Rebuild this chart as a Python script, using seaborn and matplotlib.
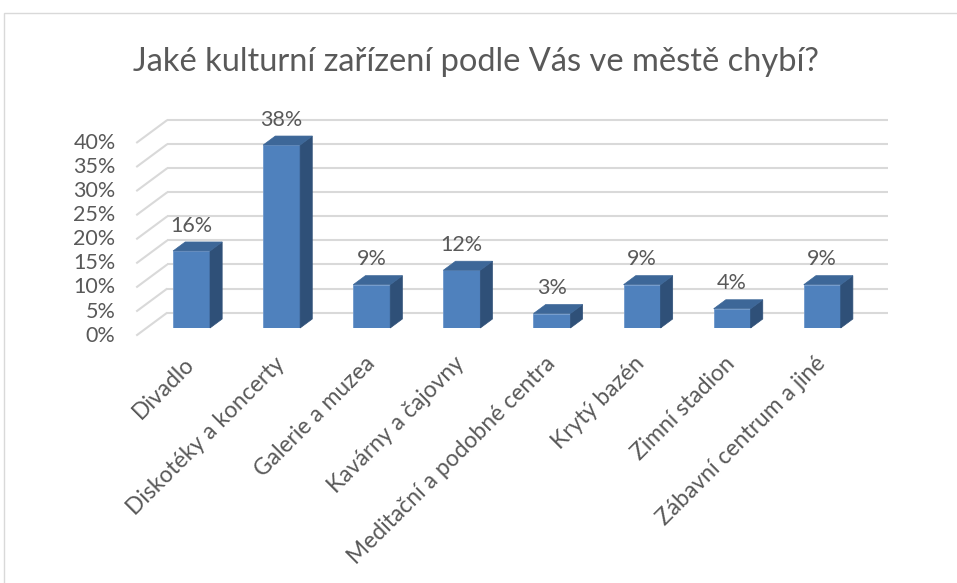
import matplotlib
matplotlib.use('Agg')
import matplotlib.pyplot as plt
import matplotlib.transforms as mtransforms
from matplotlib.patches import Polygon, Rectangle
import seaborn as sns

# Data
categories = ['Divadlo', 'Diskotéky a koncerty', 'Galerie a muzea', 'Kavárny a čajovny',
              'Meditační a podobné centra', 'Krytý bazén', 'Zimní stadion',
              'Zábavní centrum a jiné']
shares = [16, 38, 9, 12, 3, 9, 4, 9]
y_ticks = [0, 5, 10, 15, 20, 25, 30, 35, 40]
title = 'Jaké kulturní zařízení podle Vás ve městě chybí?'

front_col = '#4f81bd'
top_col = '#3d6798'
side_col = '#2f5078'
grid_col = '#d9d9d9'
text_col = '#595959'

sns.set_style('white')
plt.rcParams['font.family'] = ['Lato', 'DejaVu Sans']

W, H = 957, 583
fig = plt.figure(figsize=(W / 100, H / 100), dpi=100)
ax = fig.add_axes([146.5 / W, 255 / H, 720.8 / W, 192.6 / H])

sns.barplot(x=categories, y=shares, width=0.41, color=front_col, saturation=1,
            errorbar=None, ax=ax, zorder=3, edgecolor='#6f98cc', linewidth=0.6)
ax.set_xlim(-0.5, 7.5)
ax.set_ylim(0, 40)
sns.despine(ax=ax, left=True, bottom=True)
ax.set_xlabel('')
ax.set_ylabel('')

# pixel -> data conversion for the fake 3D depth
sx = ax.bbox.width / 8
sy = ax.bbox.height / 40


def depth(d):
    # d pixels into the picture: goes right and up
    return 1.35 * d / sx, d / sy


fx, fy = depth(-7.6)   # front edge of the side wall
bx, by = depth(15.4)   # back wall
dx, dy = depth(9)      # bar depth

# gridlines on the back wall and left wall, tick labels at the front edge
off = mtransforms.ScaledTranslation(-31 / 100, -7.6 / 100, fig.dpi_scale_trans)
for t in y_ticks:
    ax.plot([-0.5 + bx, 7.5 + bx], [t + by, t + by], color=grid_col, lw=1.5,
            clip_on=False, zorder=1, solid_capstyle='butt')
    ax.plot([-0.5 + fx, -0.5 + bx], [t + fy, t + by], color=grid_col, lw=1.5,
            clip_on=False, zorder=1, solid_capstyle='butt')
    ax.text(-0.5, t, f'{t}%', transform=ax.transData + off,
            ha='right', va='center', fontsize=15.5, color=text_col)

# side and top faces of the bars
for p in ax.patches:
    x0, w, h = p.get_x(), p.get_width(), p.get_height()
    side = [(x0 + w, 0), (x0 + w + dx, dy), (x0 + w + dx, h + dy), (x0 + w, h)]
    top = [(x0, h), (x0 + dx, h + dy), (x0 + w + dx, h + dy), (x0 + w, h)]
    ax.add_patch(Polygon(side, closed=True, facecolor=side_col, edgecolor=side_col,
                         lw=0.5, clip_on=False, zorder=3))
    ax.add_patch(Polygon(top, closed=True, facecolor=top_col, edgecolor=top_col,
                         lw=0.5, clip_on=False, zorder=3))

# value labels
for i, v in enumerate(shares):
    ax.annotate(f'{v}%', (i, v), xytext=(0, 11), textcoords='offset points',
                ha='center', va='bottom', fontsize=15.5, color=text_col)

ax.set_yticks([])
ax.set_xticks(range(len(categories)))
ax.set_xticklabels(categories, rotation=45, ha='right', rotation_mode='anchor',
                   fontsize=16.5, color=text_col)
ax.tick_params(axis='x', length=0, pad=18)
xoff = mtransforms.ScaledTranslation(-8 / 100, 0, fig.dpi_scale_trans)
for lab in ax.get_xticklabels():
    lab.set_transform(lab.get_transform() + xoff)

fig.text(476 / W, 1 - 62 / H, title, ha='center', va='center', fontsize=23.5, color=text_col)

# chart frame
fig.add_artist(Rectangle((4 / W, -0.1), 1.2, (H - 13) / H + 0.1, transform=fig.transFigure,
                         fill=False, edgecolor=grid_col, lw=1))

fig.savefig('out.png', dpi=100)
